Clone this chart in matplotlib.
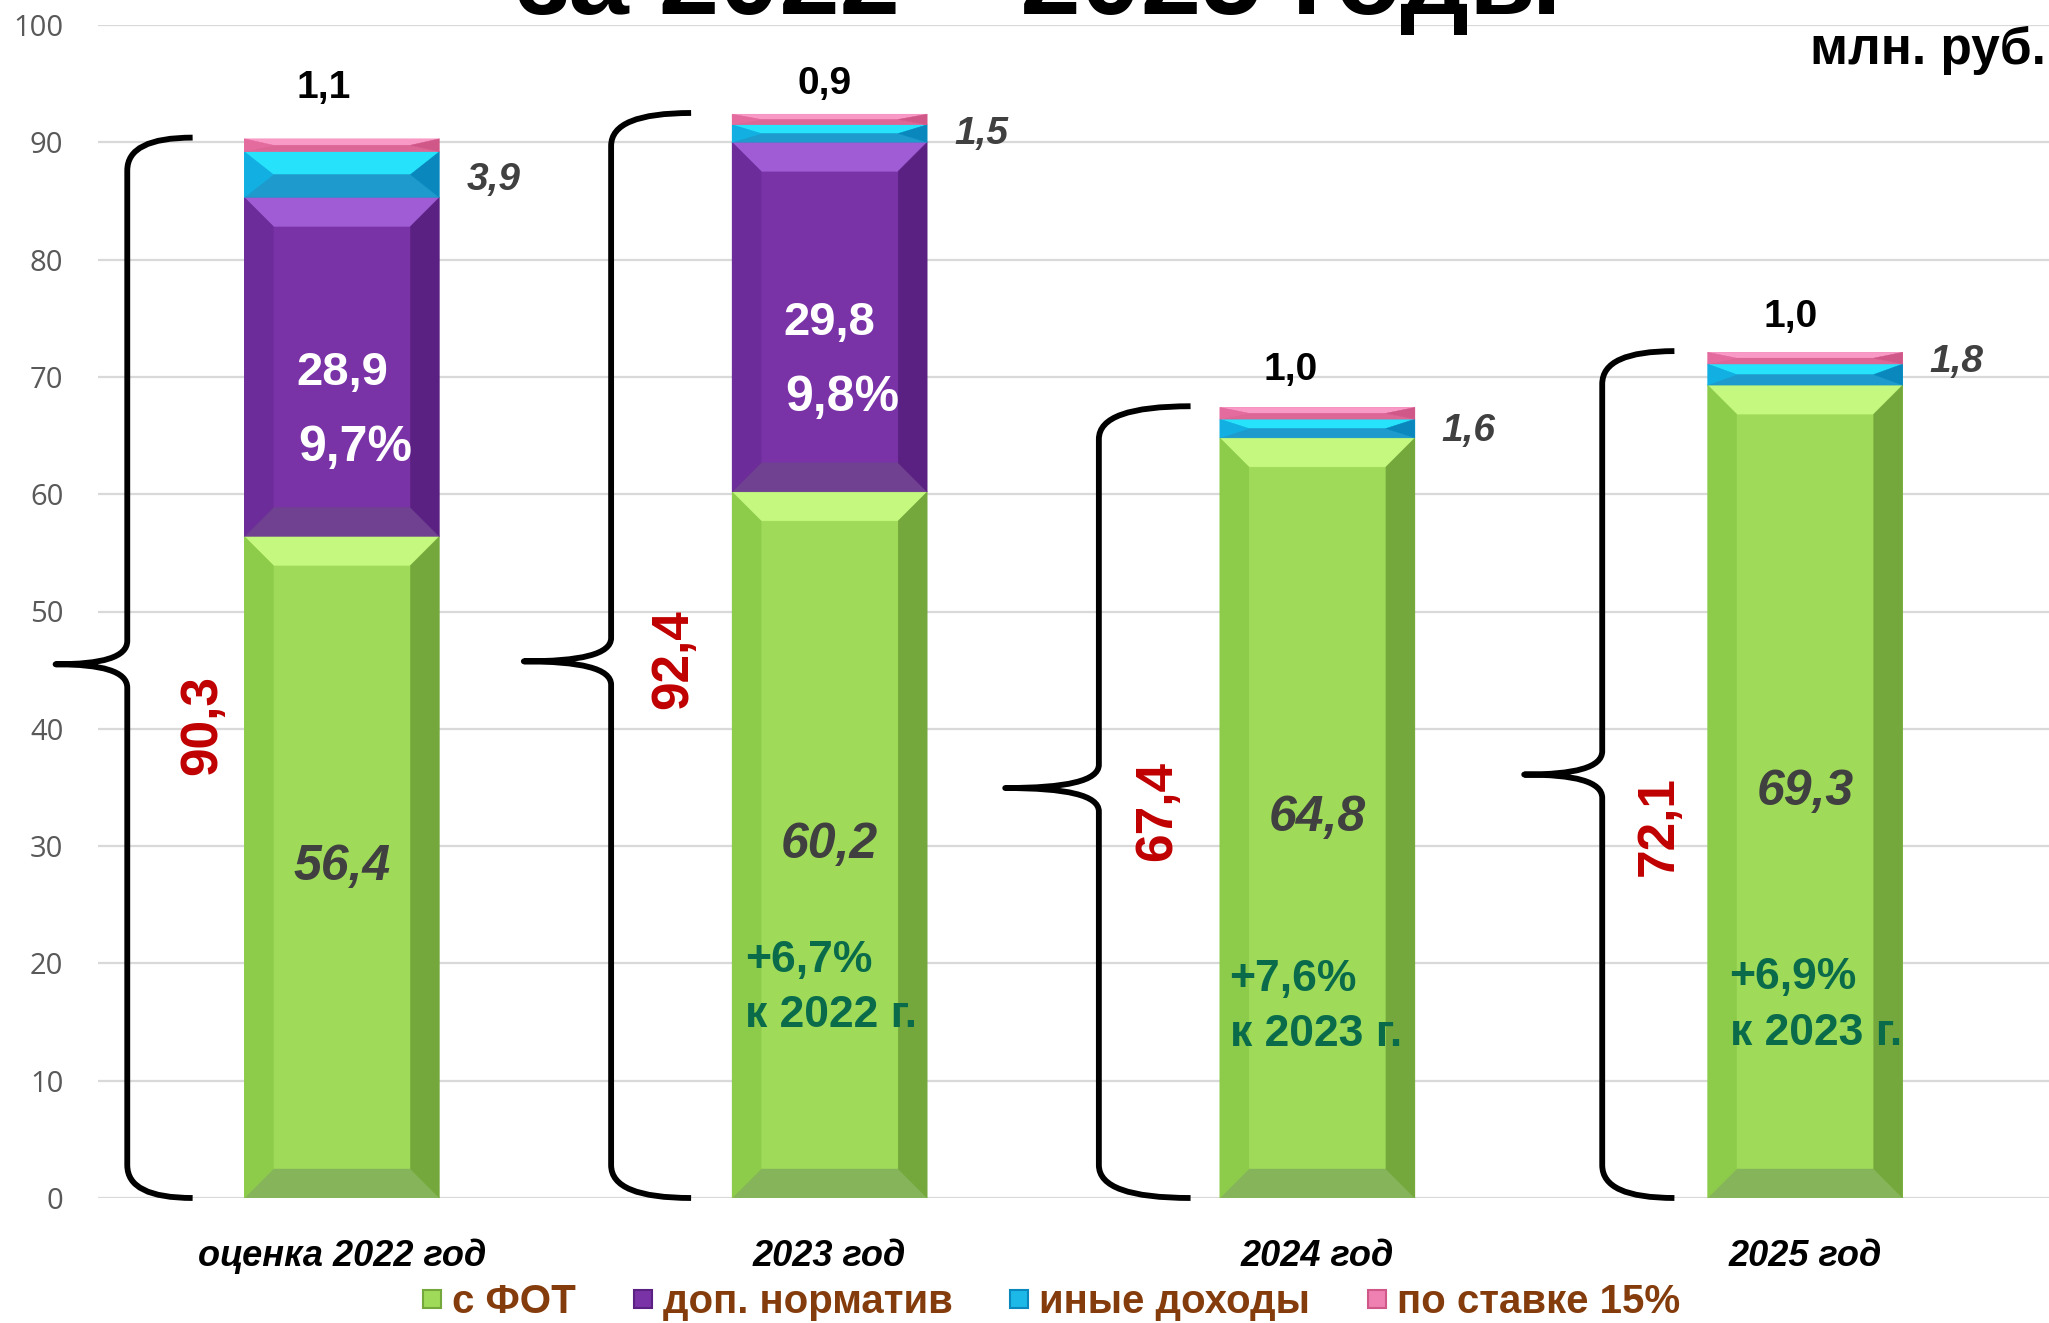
import matplotlib
matplotlib.use('Agg')
import matplotlib.pyplot as plt
from matplotlib.patches import Polygon, PathPatch
from matplotlib.path import Path
from matplotlib.lines import Line2D

# ---------------- data ----------------
categories = ['оценка 2022 год', '2023 год', '2024 год', '2025 год']
series_names = ['с ФОТ', 'доп. норматив', 'иные доходы', 'по ставке 15%']
s_fot = [56.4, 60.2, 64.8, 69.3]
dop_norm = [28.9, 29.8, 0.0, 0.0]
inye = [3.9, 1.5, 1.6, 1.8]
po_stavke = [1.1, 0.9, 1.0, 1.0]
totals = [90.3, 92.4, 67.4, 72.1]
dop_share = ['9,7%', '9,8%', '', '']
growth = ['', '+6,7%\nк 2022 г.', '+7,6%\nк 2023 г.', '+6,9%\nк 2023 г.']
yticks = [0, 10, 20, 30, 40, 50, 60, 70, 80, 90, 100]
title_text = 'за 2022 – 2025 годы'
unit_text = 'млн. руб.'

# ---------------- styles / layout ----------------
FONT = 'Liberation Sans'
plt.rcParams['font.family'] = [FONT, 'DejaVu Sans']

palette = {
    'green':  dict(face='#9FDB59', left='#8DCB4A', right='#74A83C', top='#C4F87E', bottom='#86B45A'),
    'purple': dict(face='#7933A7', left='#6C2C9A', right='#5A2182', top='#A05CD4', bottom='#704190'),
    'cyan':   dict(face='#1CB8E8', left='#12AFE2', right='#0A88BE', top='#26E2FB', bottom='#1E9BCC'),
    'pink':   dict(face='#EF80B2', left='#E46B9E', right='#D05888', top='#F899C6', bottom='#DC6696'),
}
series_colors = ['green', 'purple', 'cyan', 'pink']

BAR_W = 0.4
W_PX, H_PX = 2049, 1323
fig = plt.figure(figsize=(W_PX / 100, H_PX / 100), dpi=100)
ax_rect = [98 / W_PX, 125 / H_PX, 1 - 98 / W_PX, 1173 / H_PX]
ax = fig.add_axes(ax_rect)
ax.set_xlim(-0.5, 3.5)
ax.set_ylim(0, 100)

# grid / axes styling
ax.set_yticks(yticks)
ax.yaxis.grid(True, color='#D9D9D9', lw=1.6, zorder=0)
ax.set_axisbelow(True)
for sp in ax.spines.values():
    sp.set_visible(False)
ax.tick_params(axis='y', length=0, pad=25, labelsize=21, labelcolor='#595959')
for lab in ax.get_yticklabels():
    lab.set_fontfamily('Open Sans')
ax.set_xticks([])

x = list(range(len(categories)))

# bevel size in data units (29 px square)
px_x = ax_rect[2] * W_PX / 4.0
px_y = ax_rect[3] * H_PX / 100.0
BEV_DX = 29 / px_x
BEV_DY = 29 / px_y


def bevel(rect, pal):
    x0, y0 = rect.get_x(), rect.get_y()
    x1, y1 = x0 + rect.get_width(), y0 + rect.get_height()
    h = y1 - y0
    if h <= 0:
        return
    d = min(BEV_DY, h / 2)
    dx = BEV_DX
    polys = [
        ([(x0 + dx, y0 + d), (x1 - dx, y0 + d), (x1 - dx, y1 - d), (x0 + dx, y1 - d)], pal['face']),
        ([(x0, y1), (x1, y1), (x1 - dx, y1 - d), (x0 + dx, y1 - d)], pal['top']),
        ([(x0, y0), (x1, y0), (x1 - dx, y0 + d), (x0 + dx, y0 + d)], pal['bottom']),
        ([(x0, y0), (x0 + dx, y0 + d), (x0 + dx, y1 - d), (x0, y1)], pal['left']),
        ([(x1, y0), (x1 - dx, y0 + d), (x1 - dx, y1 - d), (x1, y1)], pal['right']),
    ]
    for pts, col in polys:
        ax.add_patch(Polygon(pts, closed=True, facecolor=col, edgecolor=col, lw=0.3, zorder=3))


bottom = [0.0] * len(x)
for vals, cname in zip([s_fot, dop_norm, inye, po_stavke], series_colors):
    bars = ax.bar(x, vals, BAR_W, bottom=bottom, color=palette[cname]['face'], zorder=2, lw=0)
    for r in bars:
        bevel(r, palette[cname])
    bottom = [b + v for b, v in zip(bottom, vals)]


def fmt(v):
    return f'{v:.1f}'.replace('.', ',')


# ---------------- braces ----------------
brace_line = [-0.44, -0.448, -0.448, -0.416]
brace_tip = [-0.587, -0.627, -0.64, -0.576]
brace_end = [-0.306, -0.284, -0.26, -0.268]
brace_mid_shift = [0.3, -0.5, 1.2, 0.0]


def brace(cx, i, top):
    xl = cx + brace_line[i]
    xt = cx + brace_tip[i]
    xe = cx + brace_end[i]
    y0, y1 = 0.0, top
    ym = top / 2 + brace_mid_shift[i]
    ry = 2.8
    rm = 2.0
    verts = [(xe, y1), (xl, y1), (xl, y1 - ry),
             (xl, ym + rm),
             (xl, ym + 0.3 * rm), (xl - 0.35 * (xl - xt), ym), (xt, ym),
             (xl - 0.35 * (xl - xt), ym), (xl, ym - 0.3 * rm), (xl, ym - rm),
             (xl, y0 + ry),
             (xl, y0), (xe, y0)]
    codes = [Path.MOVETO, Path.CURVE3, Path.CURVE3,
             Path.LINETO,
             Path.CURVE4, Path.CURVE4, Path.CURVE4,
             Path.CURVE4, Path.CURVE4, Path.CURVE4,
             Path.LINETO,
             Path.CURVE3, Path.CURVE3]
    ax.add_patch(PathPatch(Path(verts, codes), facecolor='none', edgecolor='black',
                           lw=4.2, capstyle='butt', joinstyle='round', zorder=4, clip_on=False))


for i, t in enumerate(totals):
    brace(x[i], i, t + 0.1)

# ---------------- labels ----------------
red_dx = [-0.285, -0.32, -0.327, -0.30]
red_y = [40.3, 45.9, 33.0, 31.7]
top_dx = [-0.037, -0.01, -0.054, -0.03]
top_dy = [4.3, 2.6, 3.2, 3.0]
side_dy = [-0.5, 0.0, -0.2, 1.1]
growth_dx = [0.03, 0.027, 0.02, 0.045]
growth_y = [17.9, 17.9, 16.3, 16.4]

for i in x:
    # totals (red, rotated)
    ax.text(x[i] + red_dx[i], red_y[i], fmt(totals[i]), rotation=90, ha='center', va='center',
            fontsize=37, fontweight='bold', color='#C00000', zorder=6, clip_on=False)
    # с ФОТ value
    ax.text(x[i], s_fot[i] / 2, fmt(s_fot[i]), ha='center', va='center', fontsize=36,
            fontweight='bold', fontstyle='italic', color='#404040', zorder=6)
    # доп. норматив value + share
    if dop_norm[i] > 0:
        mid = s_fot[i] + dop_norm[i] / 2
        ax.text(x[i], mid - 0.5, fmt(dop_norm[i]), ha='center', va='center', fontsize=34,
                fontweight='bold', color='white', zorder=6)
        ax.text(x[i] + 0.027, mid - 6.9, dop_share[i], ha='center', va='center', fontsize=36,
                fontweight='bold', color='white', zorder=6)
    # иные доходы (side)
    cy = s_fot[i] + dop_norm[i] + inye[i] / 2
    ax.text(x[i] + BAR_W / 2 + 0.055, cy + side_dy[i], fmt(inye[i]), ha='left', va='center',
            fontsize=28, fontweight='bold', fontstyle='italic', color='#404040', zorder=6)
    # по ставке 15% (top)
    ax.text(x[i] + top_dx[i], totals[i] + top_dy[i], fmt(po_stavke[i]), ha='center', va='center',
            fontsize=28, fontweight='bold', color='black', zorder=6)
    # growth
    if growth[i]:
        ax.text(x[i] - BAR_W / 2 + growth_dx[i], growth_y[i], growth[i], ha='left', va='center',
                fontsize=32, fontweight='bold', color='#0A6B4B', linespacing=1.45, zorder=6)
    # category label
    ax.text(x[i], -5.0, categories[i], ha='center', va='center', fontsize=26,
            fontweight='bold', fontstyle='italic', color='black', clip_on=False)

# title (cut at the top) and unit
fig.text(1039 / W_PX, 1 - 14 / H_PX, title_text, ha='center', va='baseline', fontsize=78,
         fontweight='bold', color='black')
fig.text(2046 / W_PX, 1 - 50 / H_PX, unit_text, ha='right', va='center', fontsize=37,
         fontweight='bold', color='black')

# legend
handles = [Line2D([], [], ls='none', marker='s', markersize=13,
                  markerfacecolor=palette[c]['face'], markeredgecolor=palette[c]['right'], markeredgewidth=1.5)
           for c in series_colors]
fig.legend(handles, series_names, loc='center', bbox_to_anchor=(0.513, 1 - 1302 / H_PX), ncol=4,
           frameon=False, prop=dict(family=FONT, weight='bold', size=29), labelcolor='#843C0C',
           handlelength=0.5, handletextpad=0.25, columnspacing=1.4, borderaxespad=0)

fig.savefig('out.png', dpi=100)
